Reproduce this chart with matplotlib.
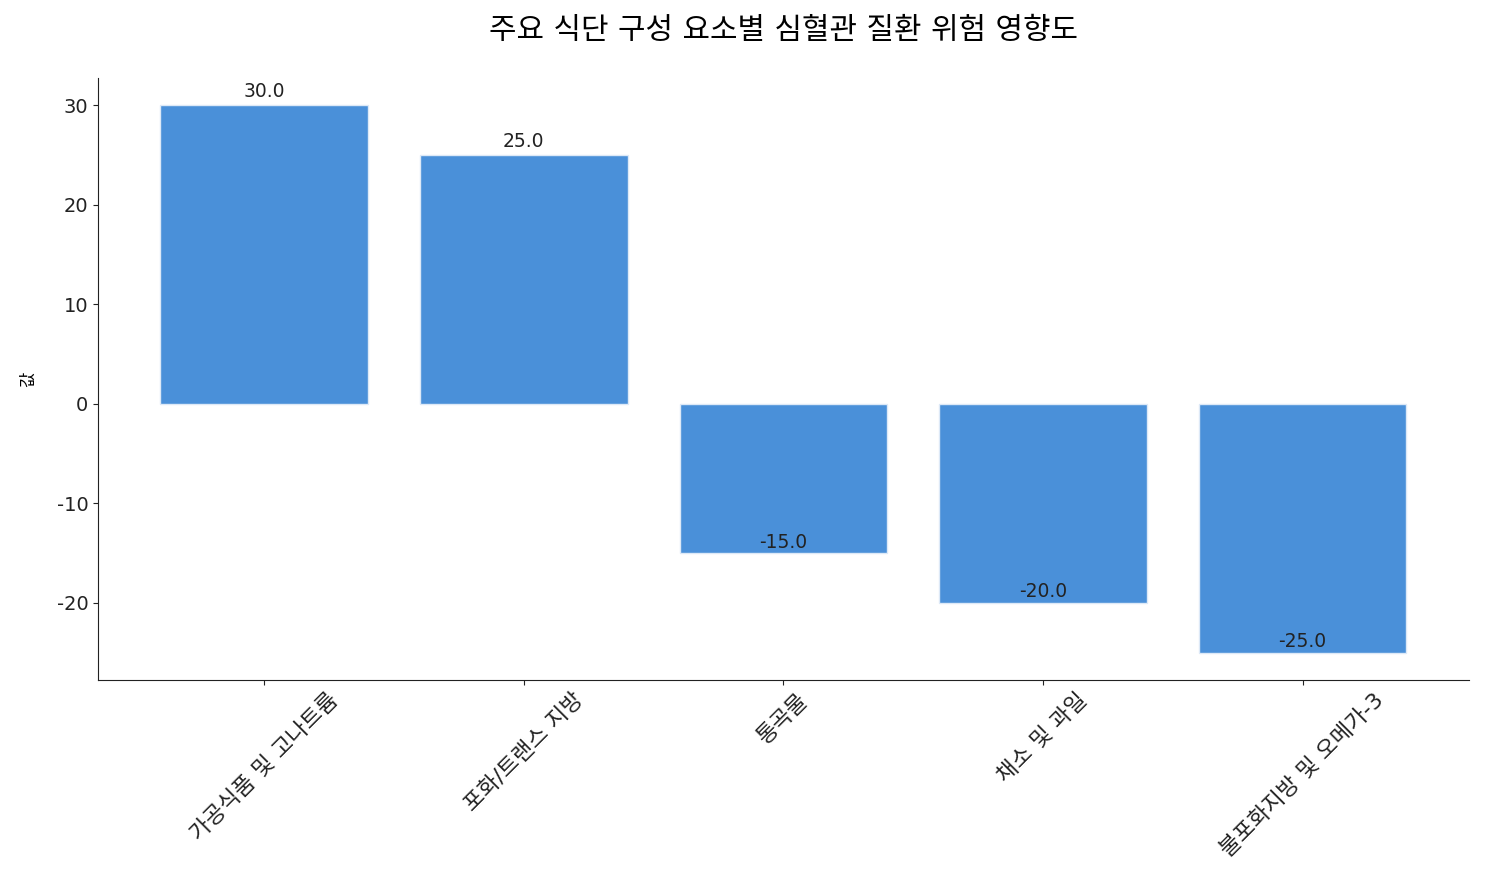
import matplotlib
matplotlib.use("Agg")
import matplotlib.pyplot as plt

plt.rcParams['font.family'] = ['DejaVu Sans', 'Noto Sans CJK KR']
plt.rcParams['axes.unicode_minus'] = False

categories = ['가공식품 및 고나트륨', '포화/트랜스 지방', '통곡물', '채소 및 과일', '불포화지방 및 오메가-3']
values = [30.0, 25.0, -15.0, -20.0, -25.0]

fig = plt.figure(figsize=(14.85, 8.84), dpi=100)
ax = fig.add_axes([0.066, 0.2308, 0.923, 0.6810])

bars = ax.bar(range(len(categories)), values, width=0.8, color='#4A90D9',
              edgecolor='#dde9f7', linewidth=1)
for b, v in zip(bars, values):
    ax.annotate(f'{v:.1f}', (b.get_x() + b.get_width() / 2, v),
                xytext=(0, 3 if v > 0 else 1), textcoords='offset points',
                ha='center', va='bottom', fontsize=13.5, color='#222222')

ax.set_xticks(range(len(categories)))
ax.set_xticklabels(categories, rotation=45, fontsize=16)
ax.tick_params(axis='y', labelsize=14)
ax.tick_params(axis='both', color='#222222', labelcolor='#222222')
ax.set_ylabel('값', fontsize=12, labelpad=14)
ax.set_title('주요 식단 구성 요소별 심혈관 질환 위험 영향도', fontsize=21.5, pad=28)
ax.spines['top'].set_visible(False)
ax.spines['right'].set_visible(False)
for s in ax.spines.values():
    s.set_color('#222222')

fig.savefig('out.png', dpi=100)
